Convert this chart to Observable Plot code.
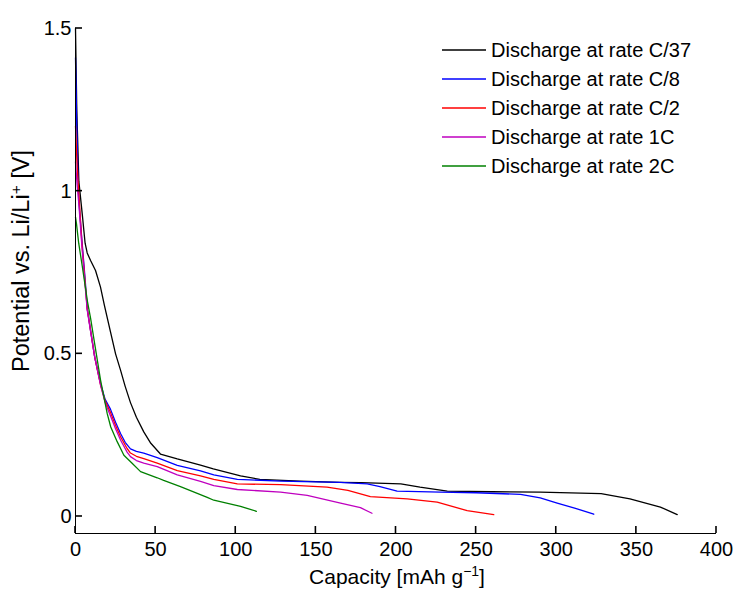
<!DOCTYPE html>
<html><head><meta charset="utf-8">
<script src="https://cdn.jsdelivr.net/npm/d3@7"></script>
<script src="https://cdn.jsdelivr.net/npm/@observablehq/plot@0.6"></script>
<style>body{margin:0;background:#fff} svg{display:block}</style>
</head><body><div id="chart"></div>
<script>
const seriesNames = ["Discharge at rate C/37","Discharge at rate C/8","Discharge at rate C/2","Discharge at rate 1C","Discharge at rate 2C"];
const seriesColors = ["#000000","#0000ff","#ff0000","#bf00bf","#008000"];

const rateC37 = [[0,1.5],[0.8,1.25],[2.1,1.03],[4.2,0.93],[6,0.84],[7.3,0.81],[9.4,0.787],[12.5,0.756],[15.6,0.705],[18,0.65],[21.8,0.568],[25,0.5],[28.1,0.45],[31,0.40],[34.3,0.35],[38,0.305],[42.6,0.26],[47,0.225],[53,0.192],[63.5,0.177],[78,0.158],[86,0.146],[103,0.125],[115,0.114],[140,0.109],[165,0.105],[178,0.104],[203,0.100],[215,0.090],[232,0.078],[260,0.076],[290,0.075],[328,0.070],[346,0.054],[365,0.029],[375.5,0.006]];
const rateC8 = [[0,1.41],[0.8,1.2],[1.5,1.05],[2.1,0.97],[4,0.85],[6,0.73],[7.3,0.64],[9.4,0.572],[12,0.49],[15.6,0.409],[18.5,0.36],[21.8,0.33],[25,0.29],[28.1,0.255],[31,0.228],[34.3,0.208],[38,0.2],[42.6,0.195],[51,0.181],[63.5,0.157],[78,0.14],[86.3,0.128],[101,0.114],[128,0.109],[165,0.105],[182,0.100],[190,0.092],[200.7,0.078],[227.8,0.075],[250,0.073],[277.7,0.068],[290,0.057],[300.6,0.041],[312,0.025],[323.4,0.007]];
const rateC2 = [[0,1.20],[1,1.08],[2.1,0.99],[4,0.84],[6,0.72],[7.3,0.64],[9.4,0.572],[12,0.49],[15.6,0.405],[18.5,0.355],[21.8,0.32],[25,0.28],[28.1,0.245],[32.2,0.209],[34.3,0.195],[38,0.185],[42.6,0.178],[51,0.164],[63.5,0.141],[78,0.125],[86.3,0.114],[101,0.100],[128,0.098],[157,0.090],[170,0.08],[184,0.061],[207,0.054],[225.7,0.044],[244.4,0.018],[261,0.006]];
const rate1C = [[0,1.09],[1,1.02],[2.1,0.96],[4,0.83],[6,0.71],[7.3,0.635],[9.4,0.57],[12,0.49],[15.6,0.405],[18.5,0.35],[21.8,0.31],[25,0.27],[28.1,0.235],[32.2,0.198],[34.3,0.184],[38,0.172],[42.6,0.164],[51,0.153],[63.5,0.128],[78,0.108],[86.3,0.095],[101,0.083],[128,0.075],[144.6,0.065],[165.4,0.041],[177.8,0.027],[185,0.010]];
const rate2C = [[0,0.92],[0.6,0.90],[2,0.84],[4.2,0.77],[6,0.71],[7.5,0.66],[9.4,0.61],[12,0.53],[15.6,0.42],[19.8,0.316],[22,0.275],[26,0.23],[30.2,0.188],[35,0.165],[40.6,0.138],[51,0.119],[55,0.111],[65.5,0.092],[82.2,0.059],[86.3,0.05],[103,0.031],[112.9,0.016]];

const xTicks = [0,50,100,150,200,250,300,350,400];
const yTicks = [0,0.5,1,1.5];
const xDomain = [0,400];
const yDomain = [-0.0523,1.5];

const allSeries = [rateC37, rateC8, rateC2, rate1C, rate2C];
const rows = [];
allSeries.forEach((s,i)=>s.forEach(([x,y])=>rows.push({x,y,series:seriesNames[i]})));

const FONT = "Liberation Sans, Arial, Helvetica, sans-serif";
const TICK = 7;

const plot = Plot.plot({
  width:736, height:589,
  marginLeft:75, marginRight:20, marginTop:28, marginBottom:56,
  style:{fontFamily:FONT, fontSize:"20px", background:"white", color:"#000", overflow:"visible"},
  x:{domain:xDomain},
  y:{domain:yDomain},
  color:{domain:seriesNames, range:seriesColors},
  marks:[
    Plot.line(rows,{x:"x",y:"y",z:"series",stroke:"series",strokeWidth:1.3}),
    Plot.axisX(xTicks,{tickSize:0, tickPadding:8, label:null, tickFormat:d=>String(d), fontSize:20}),
    Plot.axisY(yTicks,{tickSize:0, tickPadding:4, label:null, tickFormat:d=>String(d), fontSize:20}),
    Plot.ruleX([xDomain[0]],{stroke:"#000"}),
    Plot.ruleY([yDomain[0]],{stroke:"#000"})
  ]
});

const svg = d3.select(plot);
const sx = plot.scale("x"), sy = plot.scale("y");
const yBase = sy.apply(yDomain[0]);
const xBase = sx.apply(xDomain[0]);
// inward tick marks, placed through Plot's own scales
const tg = svg.append("g");
xTicks.forEach(v=>{
  const px = sx.apply(v);
  tg.append("line").attr("x1",px).attr("x2",px).attr("y1",yBase).attr("y2",yBase-TICK)
    .style("stroke","#000").style("stroke-width","1.6px");
});
yTicks.forEach(v=>{
  const py = sy.apply(v);
  tg.append("line").attr("x1",xBase).attr("x2",xBase+TICK).attr("y1",py).attr("y2",py)
    .style("stroke","#000").style("stroke-width","1.6px");
});

// axis titles
const xl = svg.append("text").attr("x",397).attr("y",584).attr("text-anchor","middle")
  .attr("font-family",FONT).attr("font-size",21).attr("fill","#000");
xl.append("tspan").text("Capacity [mAh g");
xl.append("tspan").attr("baseline-shift","super").attr("font-size",14).text("\u22121");
xl.append("tspan").text("]");

const yl = svg.append("text").attr("transform","translate(29,261) rotate(-90)").attr("text-anchor","middle")
  .attr("font-family",FONT).attr("font-size",23.5).attr("fill","#000");
yl.append("tspan").text("Potential vs. Li/Li");
yl.append("tspan").attr("baseline-shift","super").attr("font-size",15.5).text("+");
yl.append("tspan").text(" [V]");

// legend
const lg = svg.append("g");
seriesNames.forEach((name,i)=>{
  const yy = 50 + i*29;
  lg.append("line").attr("x1",442).attr("x2",486).attr("y1",yy).attr("y2",yy)
    .style("stroke",seriesColors[i]).style("stroke-width","1.3px");
  lg.append("text").attr("x",491).attr("y",yy).attr("dy","0.36em").attr("text-anchor","start")
    .attr("font-family",FONT).attr("font-size",20).attr("fill","#000").text(name);
});

document.getElementById("chart").appendChild(plot);
</script>
</body></html>
